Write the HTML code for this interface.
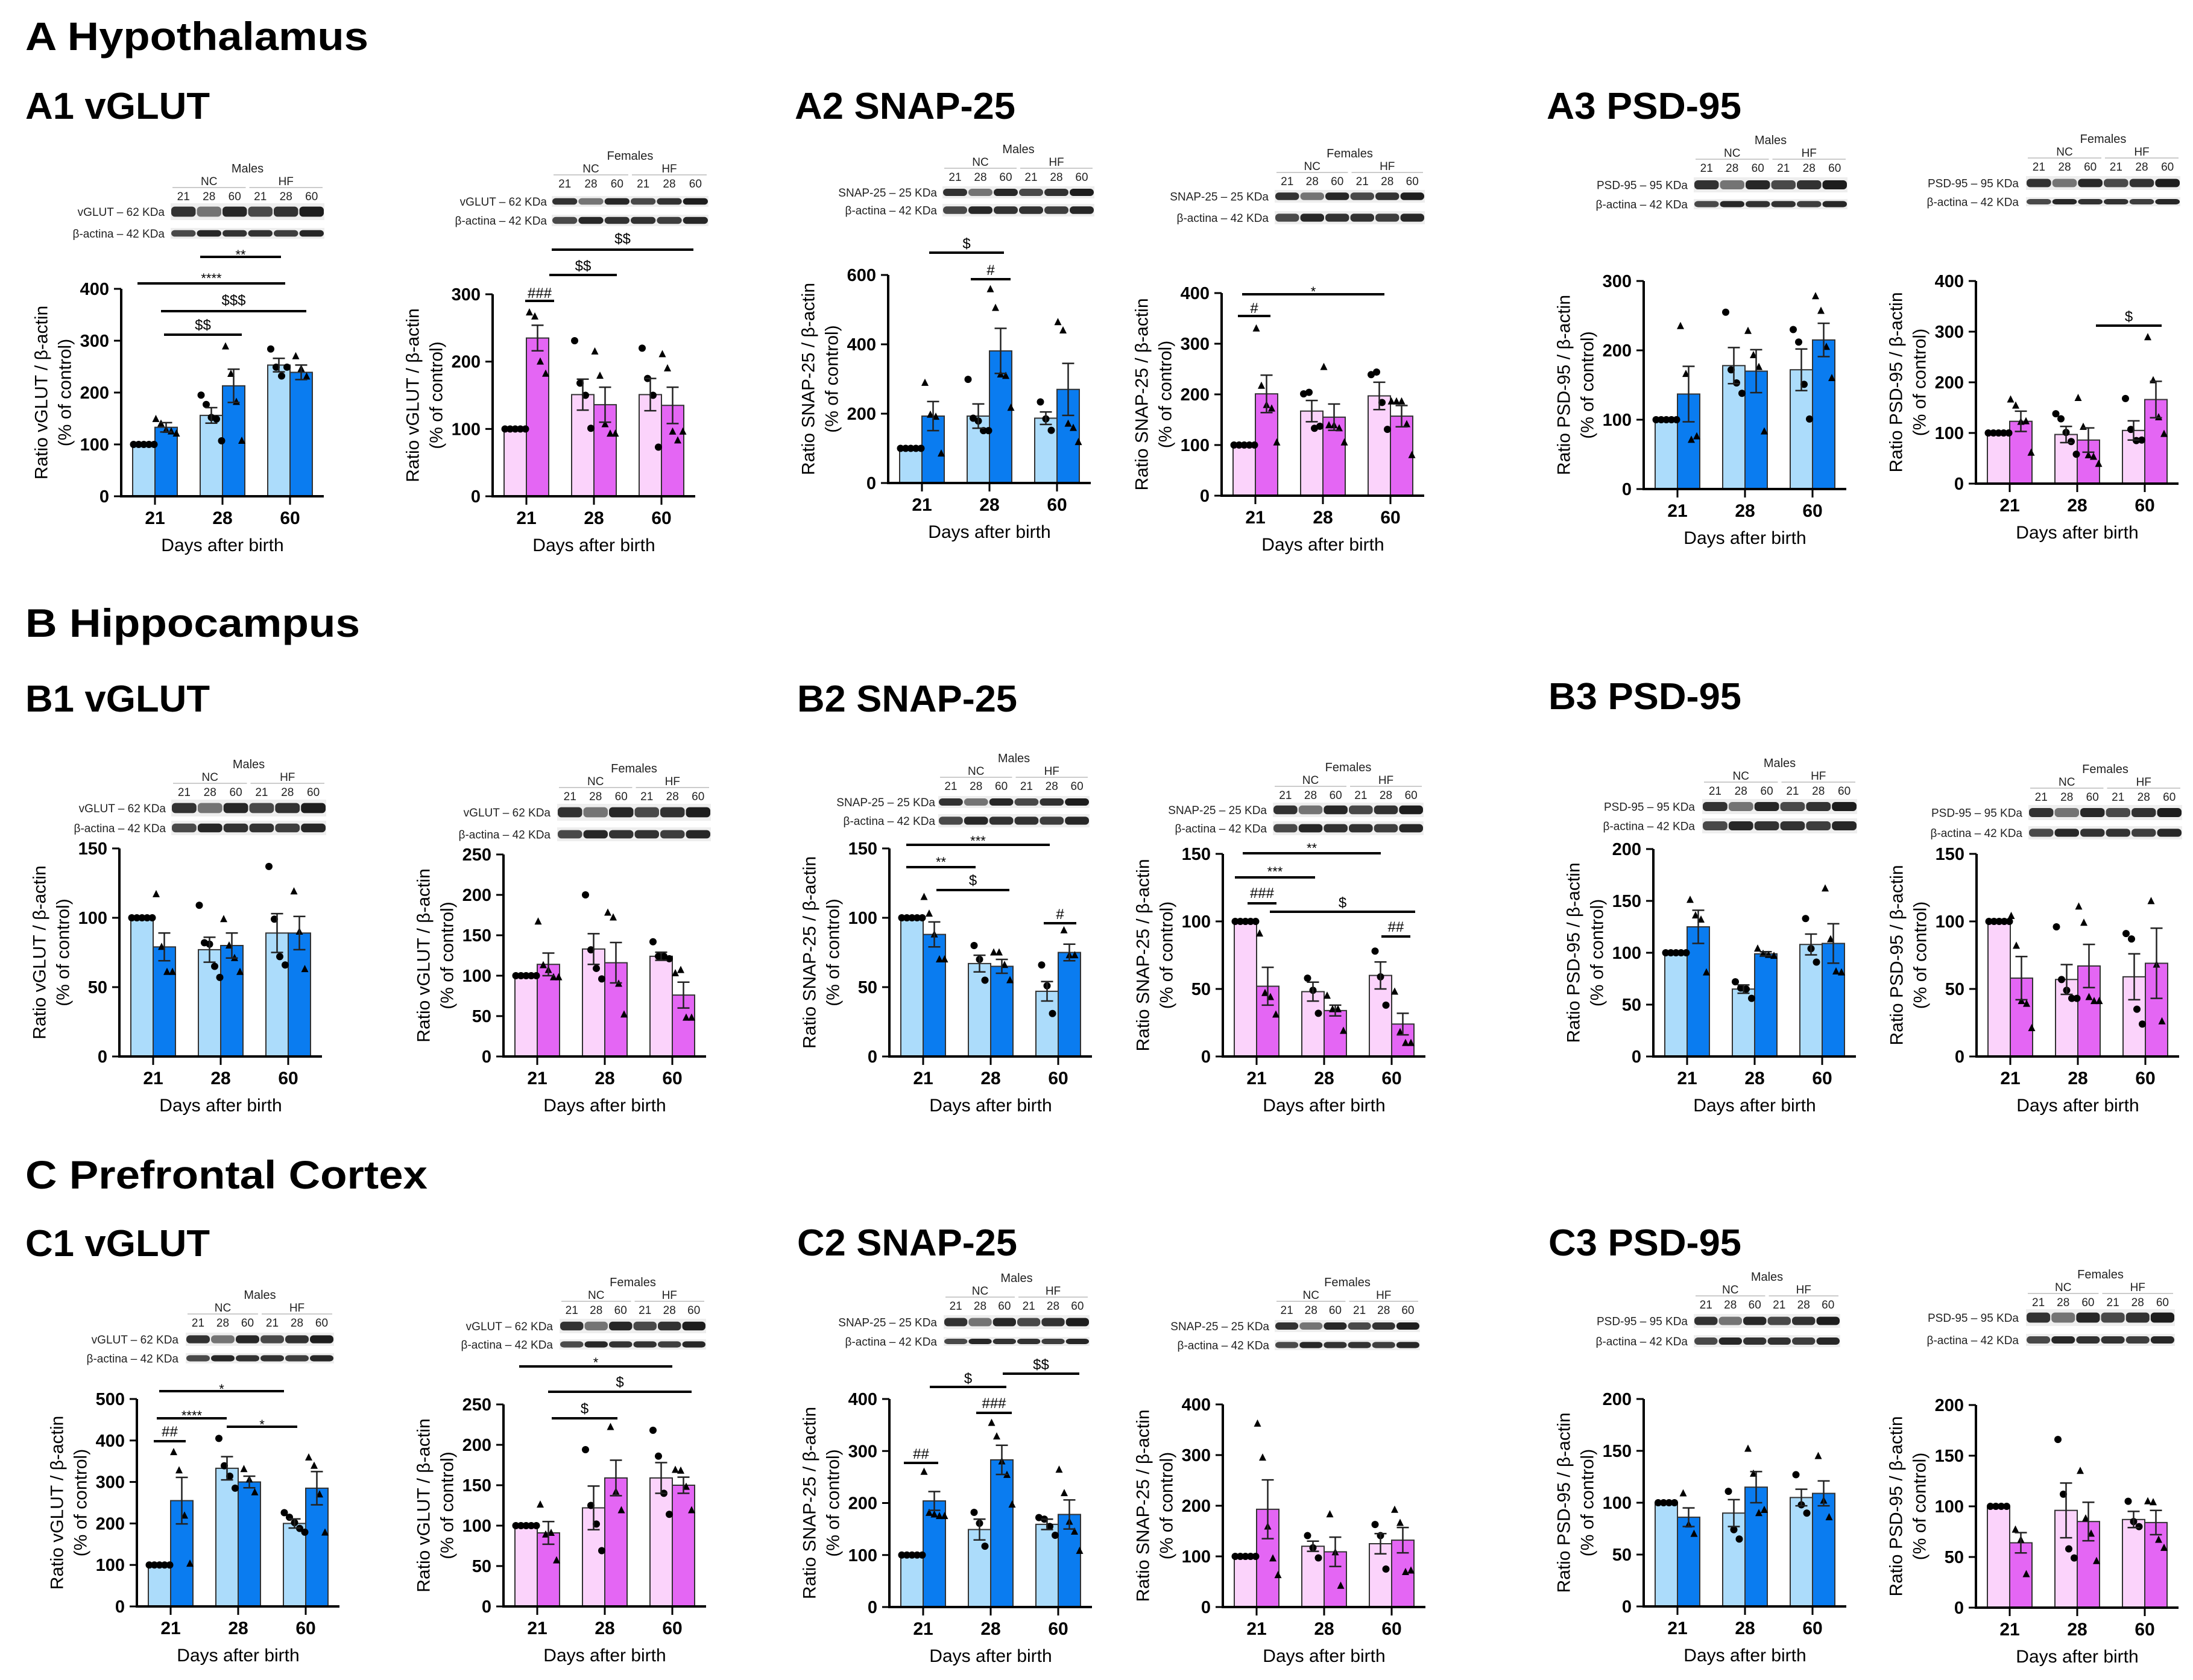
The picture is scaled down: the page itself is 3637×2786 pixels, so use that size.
<!DOCTYPE html>
<html><head><meta charset="utf-8"><title>Synaptic proteins western blot figure</title>
<style>
html,body{margin:0;padding:0;background:#fff;}
svg{display:block;font-family:"Liberation Sans",Arial,sans-serif;}
</style></head>
<body>
<svg id="fig" xmlns="http://www.w3.org/2000/svg" width="3637" height="2786" viewBox="0 0 3637 2786">
<rect x="0" y="0" width="3637" height="2786" fill="#fff"/>
<g font-weight="bold" fill="#000">
<text x="42" y="83" font-size="66" textLength="569" lengthAdjust="spacingAndGlyphs">A Hypothalamus</text>
<text x="42" y="197" font-size="62" textLength="306" lengthAdjust="spacingAndGlyphs">A1 vGLUT</text>
<text x="1318" y="197" font-size="62" textLength="366" lengthAdjust="spacingAndGlyphs">A2 SNAP-25</text>
<text x="2565" y="197" font-size="62" textLength="323" lengthAdjust="spacingAndGlyphs">A3 PSD-95</text>
<text x="42" y="1056" font-size="66" textLength="555" lengthAdjust="spacingAndGlyphs">B Hippocampus</text>
<text x="42" y="1180" font-size="62" textLength="306" lengthAdjust="spacingAndGlyphs">B1 vGLUT</text>
<text x="1322" y="1180" font-size="62" textLength="365" lengthAdjust="spacingAndGlyphs">B2 SNAP-25</text>
<text x="2568" y="1176" font-size="62" textLength="320" lengthAdjust="spacingAndGlyphs">B3 PSD-95</text>
<text x="42" y="1971" font-size="66" textLength="667" lengthAdjust="spacingAndGlyphs">C Prefrontal Cortex</text>
<text x="42" y="2083" font-size="62" textLength="306" lengthAdjust="spacingAndGlyphs">C1 vGLUT</text>
<text x="1322" y="2082" font-size="62" textLength="365" lengthAdjust="spacingAndGlyphs">C2 SNAP-25</text>
<text x="2568" y="2082" font-size="62" textLength="320" lengthAdjust="spacingAndGlyphs">C3 PSD-95</text>
</g>
</svg>
<script>
// ---- shared category data ----
const days = ['21','28','60'];
const groups = ['NC','HF'];
// bar order: NC21, HF21, NC28, HF28, NC60, HF60
const a1mMeans=[100,133,156,213,253,239]; const a1mSem=[0,9,15,32,13,14];
const a1mPts=[[100,100,100,100,100],[149,140,128,125,121],[195,177,152,149,107],[289,236,182,107],[284,249,232,249],[270,246,231]];
const a1fMeans=[100,235,151,136,151,135]; const a1fSem=[0,19,23,26,24,27];
const a1fPts=[[100,100,100,100,100],[273,267,200,182],[231,168,150,101],[215,179,107,93,93],[220,175,150,73],[211,190,96,83,96]];
const a2mMeans=[100,193,193,381,187,270]; const a2mSem=[0,42,35,65,18,75];
const a2mPts=[[100,100,100,100,100],[289,197,191,85],[299,187,179,151,151],[559,505,313,309,217],[234,185,152],[464,440,171,159,118]];
const a2fMeans=[100,201,167,155,197,157]; const a2fSem=[0,37,21,26,27,21];
const a2fPts=[[100,100,100,100,100],[330,217,179,172,105],[201,204,133,137],[254,139,139,133,105],[239,244,184,131],[186,186,186,141,80]];
const a3mMeans=[100,137,178,170,172,215]; const a3mSem=[0,40,26,31,30,24];
const a3mPts=[[100,100,100,100,100],[235,166,71,76],[255,172,153,138],[228,193,176,83],[230,212,151,101],[278,257,205,160]];
const a3fMeans=[100,123,97,86,105,166]; const a3fSem=[0,20,16,24,19,36];
const a3fPts=[[100,100,100,100,100],[166,154,122,123,61],[138,128,101,83,58],[169,112,56,53,39],[168,107,85,86],[289,204,131,98]];
const b1mMeans=[100,79,77,80,89,89]; const b1mSem=[0,10,9,9,14,12];
const b1mPts=[[100,100,100,100,100],[117,79,61,61],[109,82,81,65,57],[99,80,71,61],[137,99,72,66],[119,90,63]];
const b1fMeans=[100,114,133,116,124,76]; const b1fSem=[0,14,19,25,5,16];
const b1fPts=[[100,100,100,100,100],[167,113,107,98,98],[200,132,109,96],[178,172,90,52],[142,124,124,121],[103,107,48,48]];
const b2mMeans=[100,88,67,65,47,75]; const b2mSem=[0,9,6,5,7,6];
const b2mPts=[[100,100,100,100,100],[115,103,88,70,70],[80,70,55],[75,75,66,55],[66,51,31],[91,73,73]];
const b2fMeans=[100,52,48,34,60,24]; const b2fSem=[0,14,7,4,10,8];
const b2fPts=[[100,100,100,100,100],[91,47,44,31],[58,49,32],[45,35,35,19],[78,59,38],[48,18,10,10]];
const b3mMeans=[100,125,65,99,108,109]; const b3mSem=[0,16,4,2,10,19];
const b3mPts=[[100,100,100,100,100],[151,136,132,81],[72,66,65,56],[104,99,98,97],[133,104,91],[162,113,82,81]];
const b3fMeans=[100,58,57,67,59,69]; const b3fSem=[0,16,11,16,17,26];
const b3fPts=[[100,100,100,100,100],[104,82,41,39,21],[96,57,49,43,43],[111,99,44,41,41],[91,87,35,24],[115,68,26]];
const c1mMeans=[100,255,333,300,200,285]; const c1mSem=[0,56,28,14,11,40];
const c1mPts=[[100,100,100,100,100],[372,328,219,103],[405,339,314,285],[331,306,275],[226,215,202,188,179],[359,339,270,178]];
const c1fMeans=[100,91,122,159,159,150]; const c1fSem=[0,14,27,22,19,10];
const c1fPts=[[100,100,100,100,100],[126,89,91,57],[194,125,102,69],[222,142,119],[218,186,140,114],[169,168,148,119]];
const c2mMeans=[100,204,149,283,159,178]; const c2mSem=[0,18,20,28,10,28];
const c2mPts=[[100,100,100,100,100],[260,181,178,175,175],[182,161,117],[354,328,280,254,197],[172,169,155,138],[264,219,164,145,108]];
const c2fMeans=[100,193,120,109,125,132]; const c2fSem=[0,58,10,29,20,25];
const c2fPts=[[100,100,100,100,100],[362,295,159,96,63],[141,117,97],[183,108,42],[163,141,75],[192,166,69,72]];
const c3mMeans=[100,86,90,115,105,109]; const c3mSem=[0,9,13,15,8,12];
const c3mPts=[[100,100,100,100],[109,79,70],[111,74,65],[152,128,90,93],[127,98,90],[145,102,86]];
const c3fMeans=[100,64,96,85,87,84]; const c3fSem=[0,10,27,19,8,12];
const c3fPts=[[100,100,100,100],[77,67,33],[166,112,58,49],[135,88,73,46],[105,85,80],[105,104,67,59]];
// axis maxima / tick steps (data units)
const axisMax={a1m:400,a1f:300,a2m:600,a2f:400,a3m:300,a3f:400,b1m:150,b1f:250,b2m:150,b2f:150,b3m:200,b3f:150,c1m:500,c1f:250,c2m:400,c2f:400,c3m:200,c3f:200};
const axisStep={a1m:100,a1f:100,a2m:200,a2f:100,a3m:100,a3f:100,b1m:50,b1f:50,b2m:50,b2f:50,b3m:50,b3f:50,c1m:100,c1f:50,c2m:100,c2f:100,c3m:50,c3f:50};
const dataSets={a1m:[a1mMeans,a1mSem,a1mPts],a1f:[a1fMeans,a1fSem,a1fPts],a2m:[a2mMeans,a2mSem,a2mPts],a2f:[a2fMeans,a2fSem,a2fPts],a3m:[a3mMeans,a3mSem,a3mPts],a3f:[a3fMeans,a3fSem,a3fPts],b1m:[b1mMeans,b1mSem,b1mPts],b1f:[b1fMeans,b1fSem,b1fPts],b2m:[b2mMeans,b2mSem,b2mPts],b2f:[b2fMeans,b2fSem,b2fPts],b3m:[b3mMeans,b3mSem,b3mPts],b3f:[b3fMeans,b3fSem,b3fPts],c1m:[c1mMeans,c1mSem,c1mPts],c1f:[c1fMeans,c1fSem,c1fPts],c2m:[c2mMeans,c2mSem,c2mPts],c2f:[c2fMeans,c2fSem,c2fPts],c3m:[c3mMeans,c3mSem,c3mPts],c3f:[c3fMeans,c3fSem,c3fPts]};

// ---- layout (pixel geometry) ----
const layout=[
 {k:'a1m',ax:201,y0:823,yt:479,prot:'vGLUT',kda:'62',sex:'m',blot:[283,538,279,273,337,365,378,396]},
 {k:'a1f',ax:817,y0:823,yt:488,prot:'vGLUT',kda:'62',sex:'f',blot:[915,1175,258,907,325,343,356,375]},
 {k:'a2m',ax:1473,y0:801,yt:456,prot:'SNAP-25',kda:'25',sex:'m',blot:[1563,1815,247,1554,309,329,338,359]},
 {k:'a2f',ax:2026,y0:822,yt:486,prot:'SNAP-25',kda:'25',sex:'f',blot:[2114,2363,254,2104,315,336,350,372]},
 {k:'a3m',ax:2726,y0:811,yt:466,prot:'PSD-95',kda:'95',sex:'m',blot:[2809,3064,232,2799,294,319,330,347]},
 {k:'a3f',ax:3277,y0:802,yt:466,prot:'PSD-95',kda:'95',sex:'f',blot:[3360,3616,230,3348,292,315,327,342]},
 {k:'b1m',ax:198,y0:1752,yt:1407,prot:'vGLUT',kda:'62',sex:'m',blot:[284,541,1267,275,1326,1354,1361,1385]},
 {k:'b1f',ax:835,y0:1752,yt:1417,prot:'vGLUT',kda:'62',sex:'f',blot:[924,1179,1274,913,1333,1361,1372,1395]},
 {k:'b2m',ax:1475,y0:1752,yt:1407,prot:'SNAP-25',kda:'25',sex:'m',blot:[1556,1807,1257,1551,1320,1340,1350,1372]},
 {k:'b2f',ax:2028,y0:1752,yt:1416,prot:'SNAP-25',kda:'25',sex:'f',blot:[2111,2361,1272,2101,1331,1355,1362,1385]},
 {k:'b3m',ax:2742,y0:1752,yt:1408,prot:'PSD-95',kda:'95',sex:'m',blot:[2823,3080,1265,2811,1325,1350,1357,1382]},
 {k:'b3f',ax:3278,y0:1752,yt:1416,prot:'PSD-95',kda:'95',sex:'f',blot:[3364,3619,1275,3354,1335,1360,1370,1392]},
 {k:'c1m',ax:227,y0:2664,yt:2320,prot:'vGLUT',kda:'62',sex:'m',blot:[308,554,2147,296,2210,2232,2244,2261]},
 {k:'c1f',ax:835,y0:2664,yt:2329,prot:'vGLUT',kda:'62',sex:'f',blot:[928,1171,2126,917,2187,2211,2221,2238]},
 {k:'c2m',ax:1475,y0:2665,yt:2320,prot:'SNAP-25',kda:'25',sex:'m',blot:[1565,1807,2119,1554,2181,2204,2217,2232]},
 {k:'c2f',ax:2028,y0:2665,yt:2329,prot:'SNAP-25',kda:'25',sex:'f',blot:[2114,2355,2126,2105,2189,2209,2222,2239]},
 {k:'c3m',ax:2726,y0:2664,yt:2320,prot:'PSD-95',kda:'95',sex:'m',blot:[2809,3052,2117,2799,2179,2202,2214,2234]},
 {k:'c3f',ax:3277,y0:2666,yt:2330,prot:'PSD-95',kda:'95',sex:'f',blot:[3360,3607,2113,3348,2171,2199,2212,2232]}
];
// significance annotations: [label, x1, x2, lineY, textCenterY]
const sigs={
 a1m:[['**',332,466,426,417],['****',228,473,470,456],['$$$',267,508,516,498],['$$',272,401,555,539]],
 a1f:[['$$',915,1150,414,396],['$$',911,1023,456,441],['###',871,919,499,486]],
 a2m:[['$',1541,1665,419,404],['#',1610,1676,463,448]],
 a2f:[['*',2060,2296,488,478],['#',2053,2107,524,511]],
 a3f:[['$',3476,3585,540,525]],
 b2m:[['***',1503,1741,1401,1389],['**',1503,1618,1438,1424],['$',1553,1674,1476,1460],['#',1731,1785,1531,1516]],
 b2f:[['**',2061,2290,1415,1401],['***',2048,2181,1455,1440],['###',2069,2117,1498,1481],['$',2106,2347,1512,1497],['##',2291,2339,1553,1537]],
 c1m:[['*',264,471,2307,2298],['****',260,376,2352,2342],['*',376,493,2366,2357],['##',255,308,2390,2374]],
 c1f:[['*',861,1115,2266,2254],['$',909,1147,2308,2292],['$',915,1024,2352,2336]],
 c2m:[['$$',1663,1790,2278,2263],['$',1542,1669,2300,2286],['###',1619,1678,2343,2327],['##',1499,1556,2426,2411]]
};
const NS='http://www.w3.org/2000/svg';
const svg=document.getElementById('fig');
function mk(tag,attrs,parent,txt){const e=document.createElementNS(NS,tag);for(const a in attrs)e.setAttribute(a,attrs[a]);if(txt!==undefined)e.textContent=txt;parent.appendChild(e);return e;}
const colors={m:['#acdcfb','#0a7cf0'],f:['#fbd3fb','#e466f4']};
const band1=[0.85,0.55,0.9,0.75,0.85,0.95];
const band2=[0.75,0.9,0.85,0.85,0.8,0.9];

layout.forEach(function(p){
  const ds=dataSets[p.k]; const means=ds[0], sem=ds[1], pts=ds[2];
  const max=axisMax[p.k], step=axisStep[p.k];
  const yS=function(v){return p.y0-v/max*(p.y0-p.yt);};
  const xC=function(g){return p.ax+56+g*112;};
  const g=mk('g',{},svg);
  
  
  for(let i=0;i<6;i++){
    const c=xC(Math.floor(i/2)); const x=(i%2===0)?c-37:c;
    const r=mk('rect',{x:x,y:yS(means[i]),width:37,height:p.y0-yS(means[i]),fill:colors[p.sex][i%2],stroke:'#333','stroke-width':2},g);
    
    
  }
  for(let i=0;i<6;i++){
    const c=xC(Math.floor(i/2)); const bc=(i%2===0)?c-18.5:c+18.5;
    const arr=pts[i]; const n=arr.length;
    arr.forEach(function(v,j){
      const dx=n>1?(j-(n-1)/2)*Math.min(9,34/(n-1)):0;
      const px=bc+dx, py=yS(v);
      let m;
      if(i%2===0){ m=mk('circle',{cx:px,cy:py,r:6,fill:'#000'},g); }
      else { m=mk('polygon',{points:(px)+','+(py-7)+' '+(px-6)+','+(py+5)+' '+(px+6)+','+(py+5),fill:'#000'},g); }
      
      
    });
  }
  for(let i=0;i<6;i++){
    if(sem[i]<=0) continue;
    const c=xC(Math.floor(i/2)); const bc=(i%2===0)?c-18.5:c+18.5;
    const e=mk('path',{d:'M'+bc+' '+yS(means[i]-sem[i])+'V'+yS(means[i]+sem[i])+'M'+(bc-10)+' '+yS(means[i]+sem[i])+'H'+(bc+10)+'M'+(bc-10)+' '+yS(means[i]-sem[i])+'H'+(bc+10),stroke:'#222','stroke-width':2.5,fill:'none'},g);
    
    
  }
  const ya=mk('line',{x1:p.ax,y1:p.yt,x2:p.ax,y2:p.y0+2,stroke:'#000','stroke-width':4},g);
  
  
  const xa=mk('line',{x1:p.ax-2,y1:p.y0,x2:p.ax+336,y2:p.y0,stroke:'#000','stroke-width':4},g);
  
  
  for(let v=0;v<=max+0.001;v+=step){
    const t=mk('line',{x1:p.ax-12,y1:yS(v),x2:p.ax,y2:yS(v),stroke:'#000','stroke-width':3},g);
    
    
    const tl=mk('text',{x:p.ax-20,y:yS(v)+10,'font-size':29,'font-weight':'bold','text-anchor':'end'},g,String(v));
    
    
  }
  days.forEach(function(d,k){
    const t=mk('line',{x1:xC(k),y1:p.y0,x2:xC(k),y2:p.y0+14,stroke:'#000','stroke-width':3},g);
    
    
    const tl=mk('text',{x:xC(k),y:p.y0+46,'font-size':30,'font-weight':'bold','text-anchor':'middle'},g,d);
    
    
  });
  const xt=mk('text',{x:p.ax+168,y:p.y0+91,'font-size':30,'text-anchor':'middle'},g,'Days after birth');
  
  
  const midY=(p.y0+p.yt)/2;
  const yt1=mk('text',{x:0,y:0,'font-size':30,'text-anchor':'middle','dominant-baseline':'central',transform:'translate('+(p.ax-132)+','+midY+') rotate(-90)'},g,'Ratio '+p.prot+' / \u03b2-actin');
  
  
  const yt2=mk('text',{x:0,y:0,'font-size':30,'text-anchor':'middle','dominant-baseline':'central',transform:'translate('+(p.ax-93)+','+midY+') rotate(-90)'},g,'(% of control)');
  
  
  const b=p.blot; const bx0=b[0], bx1=b[1], ty=b[2], lr=b[3];
  const bw=(bx1-bx0)/6;
  const bg=mk('g',{},g);
  
  
  const sexT=mk('text',{x:(bx0+bx1)/2,y:ty+7,'font-size':20,'text-anchor':'middle','fill':'#222'},bg,p.sex==='m'?'Males':'Females');
  
  
  [0,1].forEach(function(h){
    const cx=bx0+(h*3+1.5)*bw;
    const gt=mk('text',{x:cx,y:ty+28,'font-size':19,'text-anchor':'middle','fill':'#222'},bg,groups[h]);
    
    
    const gl=mk('line',{x1:bx0+h*3*bw+3,y1:ty+32,x2:bx0+(h*3+3)*bw-3,y2:ty+32,stroke:'#ccc','stroke-width':2},bg);
    
    
  });
  for(let l=0;l<6;l++){
    const lt=mk('text',{x:bx0+(l+0.5)*bw,y:ty+53,'font-size':19,'text-anchor':'middle','fill':'#222'},bg,days[l%3]);
    
    
  }
  [[b[4],b[5],band1,p.prot+' \u2013  '+p.kda+' KDa'],[b[6],b[7],band2,'\u03b2-actina \u2013 42 KDa']].forEach(function(row){
    const rr=mk('rect',{x:bx0,y:row[0],width:bx1-bx0,height:row[1]-row[0],fill:'#eeeeee'},bg);
    
    
    const hh=row[1]-row[0];
    for(let l=0;l<6;l++){
      const bd=mk('rect',{x:bx0+l*bw+1,y:row[0]+hh*0.2,width:bw-2,height:hh*0.6,rx:6,fill:'#111','fill-opacity':row[2][l]},bg);
      
      
    }
    const rl=mk('text',{x:lr,y:(row[0]+row[1])/2+7,'font-size':19,'text-anchor':'end','fill':'#222'},bg,row[3]);
    
    
  });
  (sigs[p.k]||[]).forEach(function(s){
    const sl=mk('line',{x1:s[1],y1:s[3],x2:s[2],y2:s[3],stroke:'#000','stroke-width':4},g);
    
    
    const isStar=s[0].charAt(0)==='*';
    const st=mk('text',{x:(s[1]+s[2])/2,y:s[4]+(isStar?13:8),'font-size':isStar?22:24,'text-anchor':'middle'},g,s[0]);
    
    
  });
});
</script>
</body></html>
